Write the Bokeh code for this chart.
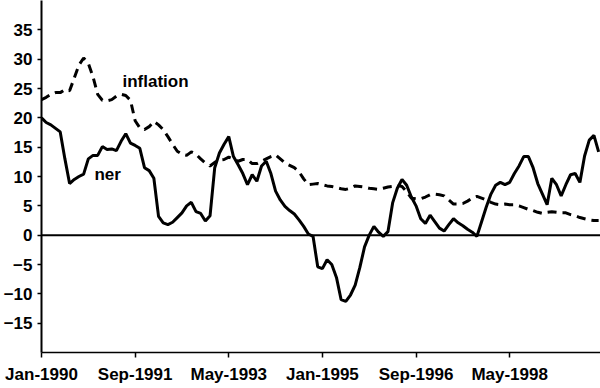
from bokeh.plotting import figure
from bokeh.models import Range1d, FixedTicker, Span, Label, ColumnDataSource
from bokeh.embed import file_html
from bokeh.resources import INLINE

# monthly data, Jan-1990 .. Dec-1999 (month index 0..119)
ner = [20, 19.2, 18.8, 18.2, 17.6, 13, 8.8, 9.5, 10, 10.4,
       13, 13.6, 13.6, 15.1, 14.6, 14.7, 14.4, 16, 17.3, 15.7,
       15.3, 14.8, 11.5, 11, 9.7, 3.2, 2.1, 1.8, 2.2, 3,
       3.8, 5, 5.6, 4, 3.7, 2.4, 3.3, 11.5, 14, 15.5,
       16.8, 13.4, 12, 10.5, 8.6, 10.3, 9.2, 11.8, 12.6, 10.5,
       7.5, 6, 4.9, 4.2, 3.6, 2.6, 1.5, 0.2, -0.2, -5.4,
       -5.7, -4.2, -5, -7.2, -11, -11.3, -10.2, -8.5, -5.5, -2,
       0, 1.5, 0.5, -0.2, 0.6, 5.5, 8, 9.5, 8.5, 6.5,
       5, 2.8, 2, 3.4, 2.3, 1.2, 0.7, 1.8, 2.8, 2.1,
       1.6, 1, 0.5, -0.2, 2.3, 4.8, 7, 8.5, 9, 8.6,
       9, 10.5, 11.8, 13.4, 13.4, 11.5, 8.8, 7, 5.2, 9.7,
       8.6, 6.7, 8.6, 10.3, 10.5, 9, 13.5, 16.2, 17, 14.2]

inflation = [23.1, 23.5, 24, 24.3, 24.3, 24.8, 24.6, 26.8, 29, 30.2,
             29.3, 27, 24, 23, 22.9, 23.1, 23.7, 24, 23.8, 23,
             19.5, 18.3, 18, 18.5, 19.4, 18.8, 18, 16.8, 15.5, 14.3,
             13.8, 13.6, 14.2, 13.8, 13, 12.3, 11.8, 12.4, 12.8, 12.9,
             13.3, 13, 12.6, 12.9, 12.9, 12.2, 12.2, 12.6, 13, 13.4,
             13.7, 13, 12.3, 11.9, 11.5, 10.8, 9.6, 8.6, 8.7, 8.8,
             8.6, 8.4, 8.3, 8.1, 7.9, 7.8, 8, 8.4, 8.3, 8.2,
             8, 7.9, 7.8, 8, 8.2, 8.3, 8.5, 8.3, 7.4, 6.3,
             6.2, 6.2, 6.5, 6.9, 7, 6.9, 6.7, 6, 5.3, 5.3,
             5.4, 5.8, 6.3, 6.6, 6.3, 6, 5.6, 5.3, 5.2, 5.3,
             5.2, 5.2, 5, 4.7, 4.4, 4.2, 3.9, 3.7, 3.9, 4,
             3.9, 3.8, 3.8, 3.5, 3.3, 3, 2.8, 2.6, 2.5, 2.5]

months = list(range(len(ner)))

x_tick_pos = [0, 20, 40, 60, 80, 100]
x_tick_labels = ["Jan-1990", "Sep-1991", "May-1993", "Jan-1995", "Sep-1996", "May-1998"]
y_ticks = [-15, -10, -5, 0, 5, 10, 15, 20, 25, 30, 35]

src = ColumnDataSource(dict(m=months, ner=ner, inflation=inflation))

FONT = "Liberation Sans"

p = figure(width=600, height=388, output_backend="svg", toolbar_location=None,
           x_range=Range1d(0, 119.4), y_range=Range1d(-20, 40),
           min_border_left=40, min_border_right=0, min_border_top=0, min_border_bottom=36)
p.outline_line_color = None
p.xgrid.visible = False
p.ygrid.visible = False

p.line("m", "inflation", source=src, line_color="black", line_width=3, line_dash="9 6")
p.line("m", "ner", source=src, line_color="black", line_width=3)

p.add_layout(Span(location=0, dimension="width", line_color="black", line_width=2))

# axes
p.xaxis.ticker = FixedTicker(ticks=x_tick_pos)
p.xaxis.major_label_overrides = {k: v for k, v in zip(x_tick_pos, x_tick_labels)}
p.xaxis.minor_tick_line_color = None
p.xaxis.major_tick_in = 0
p.xaxis.major_tick_out = 5
p.xaxis.major_label_standoff = 7
p.xaxis.axis_line_width = 1.5
p.xaxis.major_tick_line_width = 1.5
p.xaxis.major_label_text_font = FONT
p.xaxis.major_label_text_font_style = "bold"
p.xaxis.major_label_text_font_size = "17px"
p.xaxis.major_label_text_color = "black"

p.yaxis.ticker = FixedTicker(ticks=y_ticks)
p.yaxis.minor_tick_line_color = None
p.yaxis.major_tick_in = 0
p.yaxis.major_tick_out = 4
p.yaxis.major_label_standoff = 5
p.yaxis.axis_line_width = 2
p.yaxis.major_tick_line_width = 1.5
p.yaxis.major_label_text_font = FONT
p.yaxis.major_label_text_font_style = "bold"
p.yaxis.major_label_text_font_size = "17px"
p.yaxis.major_label_text_color = "black"

p.add_layout(Label(x=17.3, y=24.6, text="inflation", text_font=FONT, text_font_style="bold",
                   text_font_size="17px", text_color="black"))
p.add_layout(Label(x=11.3, y=8.7, text="ner", text_font=FONT, text_font_style="bold",
                   text_font_size="17px", text_color="black"))

open("out.html", "w").write(file_html(p, INLINE))
